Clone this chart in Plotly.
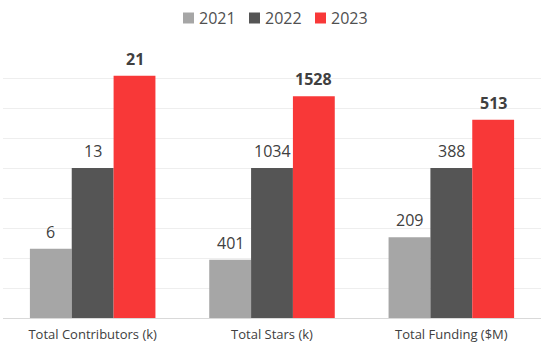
import plotly.graph_objects as go

categories = ["Total Contributors (k)", "Total Stars (k)", "Total Funding ($M)"]
years = ["2021", "2022", "2023"]
values_2021 = [6, 401, 209]
values_2022 = [13, 1034, 388]
values_2023 = [21, 1528, 513]
colors = ["#a6a6a6", "#555555", "#f83838"]

series = [values_2021, values_2022, values_2023]
# Each metric is shown relative to its 2022 value so the groups share one axis.
reference = values_2022

W, H = 551, 345
M_L, M_R, M_T, M_B = 3, 10, 48, 27
BARGAP = 0.30
FONT = "Open Sans, sans-serif"
TEXT = "#404040"

plot_w = W - M_L - M_R
plot_h = H - M_T - M_B


def px_x(px):
    return (px - M_L) / plot_w


def px_y(py):
    return (H - M_B - py) / plot_h


fig = go.Figure()
bar_w = (1 - BARGAP) / len(series)
annotations = []
for i, (year, vals) in enumerate(zip(years, series)):
    rel = [v / r for v, r in zip(vals, reference)]
    fig.add_trace(go.Bar(
        name=year,
        x=list(range(len(categories))),
        y=rel,
        marker=dict(color=colors[i], line=dict(width=0)),
        showlegend=False,
    ))
    offset = (i - (len(series) - 1) / 2) * bar_w
    for j, (v, r) in enumerate(zip(vals, rel)):
        label = f"<b>{v}</b>" if year == "2023" else str(v)
        annotations.append(dict(
            x=j + offset, y=r, xref="x", yref="y",
            text=label, showarrow=False,
            xanchor="center", yanchor="bottom", yshift=4,
            font=dict(size=16, color=TEXT, family=FONT),
        ))

# Legend row drawn above the plot area
shapes = []
leg_left, leg_pitch, sq, leg_cy = 183, 66, 11, 18
for i, year in enumerate(years):
    x0 = leg_left + i * leg_pitch
    shapes.append(dict(
        type="rect", xref="paper", yref="paper",
        x0=px_x(x0), x1=px_x(x0 + sq),
        y0=px_y(leg_cy + sq / 2), y1=px_y(leg_cy - sq / 2),
        fillcolor=colors[i], line=dict(width=0),
    ))
    annotations.append(dict(
        x=px_x(x0 + sq + 3), y=px_y(leg_cy), xref="paper", yref="paper",
        text=year, showarrow=False, xanchor="left", yanchor="middle",
        font=dict(size=16, color="#505050", family=FONT),
    ))

fig.update_layout(
    width=W, height=H,
    margin=dict(l=M_L, r=M_R, t=M_T, b=M_B),
    paper_bgcolor="white", plot_bgcolor="white",
    barmode="group", bargap=BARGAP, bargroupgap=0,
    font=dict(family=FONT, color=TEXT),
    showlegend=False,
    annotations=annotations,
    shapes=shapes,
)
fig.update_xaxes(
    tickvals=list(range(len(categories))), ticktext=categories,
    range=[-0.5, len(categories) - 0.5],
    showline=True, linecolor="#d9d9d9", linewidth=1, showgrid=False,
    tickfont=dict(size=13, color=TEXT), ticks="", ticklabelstandoff=4,
)
fig.update_yaxes(
    range=[0, 1.8], dtick=0.2, showticklabels=False,
    showgrid=True, gridcolor="#eeeeee", gridwidth=1, zeroline=False,
)

fig.write_html("out.html")
